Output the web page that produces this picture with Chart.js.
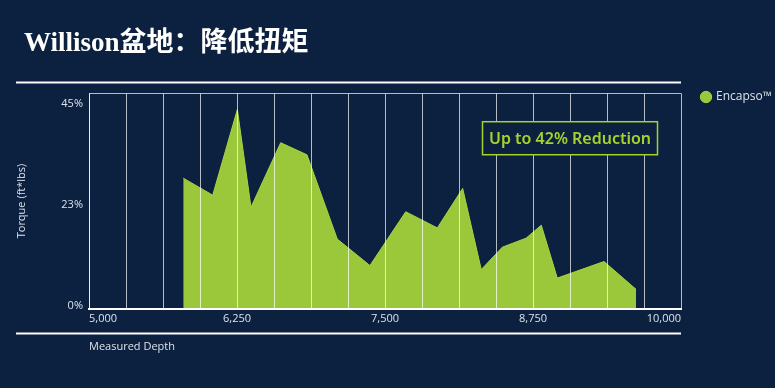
<!DOCTYPE html>
<html>
<head>
<meta charset="utf-8">
<script src="https://cdn.jsdelivr.net/npm/chart.js@4"></script>
<style>
  html, body { margin: 0; padding: 0; background: #0c2140; }
</style>
</head>
<body>
<canvas id="torqueChart" width="775" height="388"></canvas>
<script>
// measured depth (ft) and torque (%)
const depths = [5796, 6045, 6253, 6368, 6619, 6841, 7097, 7373, 7675, 7942, 8156, 8313, 8491, 8691, 8820, 8955, 9350, 9620];
const torque = [29.1, 25.3, 44.4, 22.6, 37.0, 34.3, 15.5, 9.6, 21.6, 18.0, 26.8, 8.7, 13.7, 15.7, 18.6, 6.8, 10.5, 4.3];
const yTicks = [0, 22.5, 45];
const xLabels = [5000, 6250, 7500, 8750, 10000];
const seriesName = 'Encapso™';
const calloutText = 'Up to 42% Reduction';

const textColor = '#dde2ea';
const gridColor = 'rgba(255, 255, 255, 0.7)';
const green = '#9bc83b';
const yMax = 48;

Chart.defaults.font.family = "'Open Sans', sans-serif";
Chart.defaults.font.size = 11;
Chart.defaults.color = textColor;

// white rules and the callout label
const frameDecor = {
  id: 'frameDecor',
  afterDraw(chart, args, opts) {
    const { ctx, chartArea: a, scales: { x, y } } = chart;
    ctx.save();
    ctx.strokeStyle = '#ffffff';
    ctx.lineWidth = 2;
    [a.top - 11, a.bottom + 25].forEach((yy) => {
      ctx.beginPath();
      ctx.moveTo(16, yy);
      ctx.lineTo(a.right, yy);
      ctx.stroke();
    });

    const cx = x.getPixelForValue(opts.x);
    const cy = y.getPixelForValue(opts.y);
    const w = 175, h = 33;
    ctx.fillStyle = '#0c2140';
    ctx.fillRect(cx - w / 2, cy - h / 2, w, h);
    ctx.strokeStyle = '#a5d22d';
    ctx.lineWidth = 1.5;
    ctx.strokeRect(cx - w / 2, cy - h / 2, w, h);
    ctx.fillStyle = '#a5d22d';
    ctx.font = "600 16px 'Noto Sans', sans-serif";
    ctx.textAlign = 'center';
    ctx.textBaseline = 'middle';
    ctx.fillText(calloutText, cx, cy + 1);
    ctx.restore();
  },
};

new Chart(document.getElementById('torqueChart'), {
  type: 'line',
  data: {
    datasets: [{
      label: seriesName,
      data: depths.map((d, i) => ({ x: d, y: torque[i] })),
      fill: 'origin',
      backgroundColor: green,
      borderColor: '#a8d440',
      borderWidth: 1,
      pointRadius: 0,
      tension: 0,
    }],
  },
  options: {
    responsive: false,
    animation: false,
    devicePixelRatio: 1,
    layout: { padding: { left: 24, right: 0, top: 0, bottom: 35 } },
    scales: {
      x: {
        type: 'linear',
        min: 5000,
        max: 10000,
        grid: { color: gridColor, lineWidth: 1, drawTicks: false, z: 1 },
        // border above the grid layer, so its position is known when drawn
        border: { color: '#ffffff', width: 2, z: 2 },
        ticks: {
          stepSize: 312.5,
          autoSkip: false,
          maxRotation: 0,
          align: 'inner',
          padding: 4,
          callback: (v) => (xLabels.includes(v) ? v.toLocaleString('en-US') : ''),
        },
        title: { display: true, text: 'Measured Depth', align: 'start', padding: { top: 10, bottom: 0 } },
      },
      y: {
        min: 0,
        max: yMax,
        afterBuildTicks: (s) => { s.ticks = yTicks.concat(yMax).map((v) => ({ value: v })); },
        afterFit: (s) => { s.width = 65; },
        // only the top edge of the box is drawn
        grid: {
          drawTicks: false,
          color: (c) => (c.tick && c.tick.value === yMax ? gridColor : 'rgba(0,0,0,0)'),
        },
        border: { color: gridColor, width: 1 },
        ticks: { padding: 6, labelOffset: -3, callback: (v) => (v === yMax ? '' : Math.round(v) + '%') },
        title: { display: true, text: 'Torque (ft*lbs)', padding: { top: -9, bottom: 0 } },
      },
    },
    plugins: {
      title: {
        display: true,
        text: 'Willison盆地：降低扭矩',
        align: 'start',
        color: '#ffffff',
        font: { family: "'Liberation Serif', 'Noto Sans CJK SC', serif", size: 27, weight: 'bold' },
        padding: { top: 28, bottom: 33 },
      },
      legend: {
        position: 'right',
        align: 'start',
        maxWidth: 94,
        title: { display: true, text: ' ', font: { size: 10 }, padding: { top: 58, bottom: 0 } },
        labels: {
          usePointStyle: true,
          pointStyle: 'circle',
          boxWidth: 8,
          boxHeight: 8,
          padding: 21,
          font: { size: 12 },
          color: textColor,
        },
      },
      tooltip: { enabled: false },
      frameDecor: { x: 9062.5, y: 38 },
    },
  },
  plugins: [frameDecor],
});
</script>
</body>
</html>
